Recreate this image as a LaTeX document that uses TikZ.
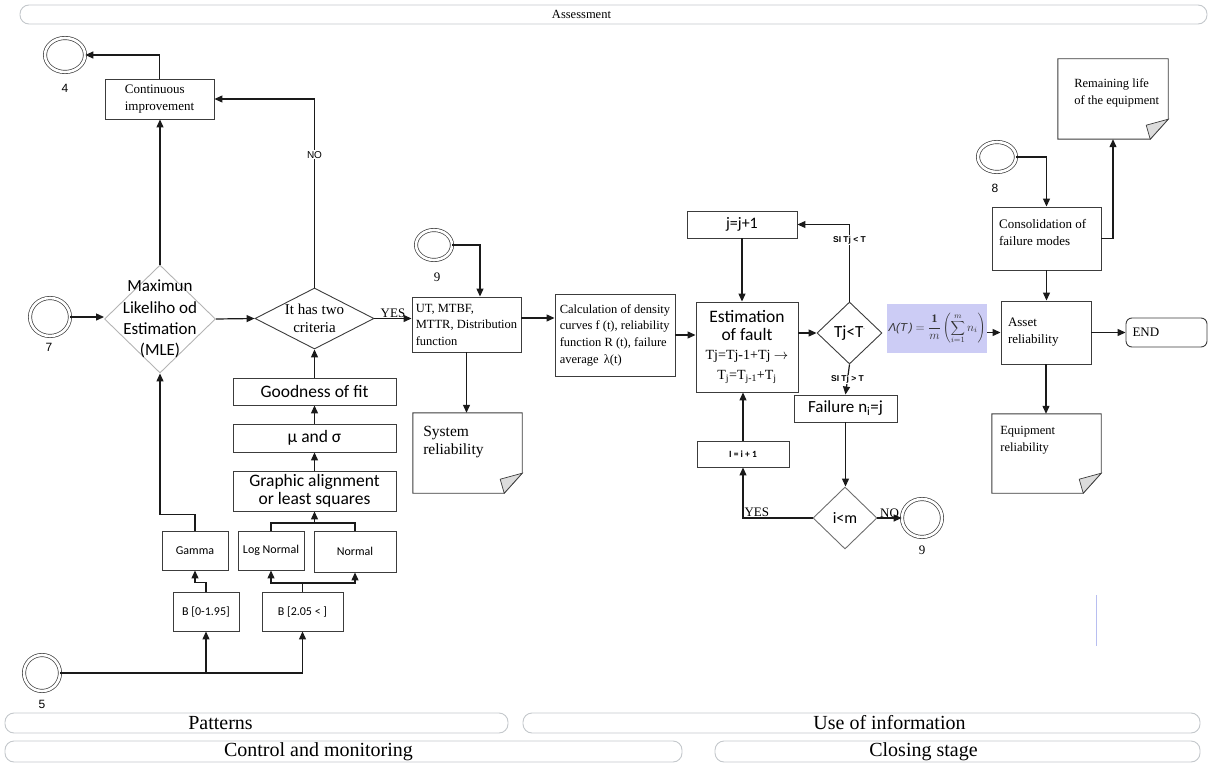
\documentclass[tikz,border=0pt]{standalone}
\usepackage{fontspec}
\setmainfont{Liberation Serif}
\newfontfamily\cf{Carlito}
\newfontfamily\af{Liberation Sans}
\usetikzlibrary{arrows.meta,shapes.geometric,calc}

\definecolor{ink}{HTML}{1A1A1A}
\definecolor{boxgray}{HTML}{3C3C3C}
\definecolor{lightdia}{HTML}{B4B4B4}
\definecolor{middia}{HTML}{6E6E6E}
\definecolor{bannerline}{HTML}{C4C8CC}
\definecolor{formulabg}{RGB}{204,204,245}
\definecolor{folded}{HTML}{DCDCDC}
\definecolor{stray}{HTML}{B8BEF0}

\newcommand\fs[2]{\fontsize{#1}{#2}\selectfont}
% note sheet with a dog-eared lower right corner
\newcommand\foldnote[1]{%
  \draw[boxgray, line width=0.9pt] (#1.north west) -- (#1.north east)
    -- ([yshift=20pt]#1.south east) -- ([xshift=-18pt]#1.south east)
    -- (#1.south west) -- cycle;
  \filldraw[boxgray, line width=0.7pt, fill=folded] ([yshift=20pt]#1.south east)
    -- ([xshift=-22pt,yshift=14pt]#1.south east) -- ([xshift=-18pt]#1.south east) -- cycle;}

\tikzset{
  box/.style={draw=boxgray, line width=0.9pt, inner sep=2pt, align=left},
  dia/.style={diamond, draw=boxgray, line width=0.9pt, inner sep=0pt},
  endevent/.style={ellipse, draw=boxgray, line width=0.7pt, double=white,
                   double distance=2.6pt, inner sep=0pt},
  notesheet/.style={inner sep=0pt},
  banner/.style={draw=bannerline, line width=0.9pt, rounded corners=9pt, fill=white, inner sep=0pt},
  arrowline/.style={line width=1.2pt, draw=ink, -{Triangle[length=8pt,width=7pt]}},
  link/.style={line width=1.2pt, draw=ink},
  evnum/.style={font=\af\fs{12}{14}, inner sep=0pt},
  evnumserif/.style={font=\fs{13}{15}, inner sep=0pt},
  smallbox/.style={box, align=center, font=\cf\fs{12}{14}},
  sansbox/.style={box, align=center, font=\cf\fs{17.5}{17.5}},
  silbl/.style={font=\af\bfseries\fs{8.5}{10}, fill=white, inner sep=1pt},
  serifsmall/.style={font=\fs{13}{15}, inner sep=1pt},
}

\begin{document}
\begin{tikzpicture}[x=1pt,y=-1pt]
\useasboundingbox (0,0) rectangle (1211,765);

% phase banners
\node[banner, minimum width=1187pt, minimum height=19pt,
      label={[font=\fs{12.5}{14}, xshift=-32pt]center:Assessment}] (assess) at (613.5,14.5) {};
\node[banner, minimum width=503pt, minimum height=20pt,
      label={[font=\fs{20}{22}, xshift=-36pt]center:Patterns}] (patterns) at (256.5,723) {};
\node[banner, minimum width=677pt, minimum height=20pt,
      label={[font=\fs{20}{22}, xshift=28pt]center:Use of information}] (useinfo) at (861.5,723) {};
\node[banner, minimum width=677pt, minimum height=21pt,
      label={[font=\fs{20}{22}, xshift=-25pt]center:Control and monitoring}] (control) at (343.5,751.5) {};
\node[banner, minimum width=485pt, minimum height=21pt,
      label={[font=\fs{20}{22}, xshift=-34pt]center:Closing stage}] (closing) at (957.5,751.5) {};

% events
\node[endevent, minimum width=40pt, minimum height=34pt] (e4) at (65,55) {};
\node[evnum] (e4n) at (65,88) {4};
\node[endevent, minimum width=40pt, minimum height=38pt] (e7) at (50,317) {};
\node[evnum] (e7n) at (49,347) {7};
\node[endevent, minimum width=36pt, minimum height=36pt] (e5) at (42,673) {};
\node[evnum] (e5n) at (42,704) {5};
\node[endevent, minimum width=36pt, minimum height=30pt] (e9a) at (434,245) {};
\node[evnumserif] (e9an) at (437,277) {9};
\node[endevent, minimum width=38pt, minimum height=30pt] (e8) at (997,157) {};
\node[evnum] (e8n) at (995,188) {8};
\node[endevent, minimum width=40pt, minimum height=38pt] (e9b) at (922,518) {};
\node[evnumserif] (e9bn) at (922,550) {9};

% left part: patterns and estimation
\node[box, minimum width=109pt, minimum height=40pt, font=\fs{13}{17}] (cont) at (159.5,99) {Continuous\\improvement};
\node[dia, draw=lightdia, minimum width=111pt, minimum height=108pt,
      label={[font=\cf\fs{17}{21.3}, align=center]center:Maximun\\Likeliho od\\Estimation\\(MLE)}] (mle) at (160,319) {};
\node[dia, minimum width=119pt, minimum height=61pt,
      label={[font=\fs{15}{18}, align=center]center:It has two\\criteria}] (crit) at (314.5,318.5) {};
\node[sansbox, minimum width=163pt, minimum height=27pt] (good) at (314.5,391.5) {Goodness of fit};
\node[sansbox, minimum width=163pt, minimum height=28pt] (musig) at (314.5,438) {μ and σ};
\node[sansbox, minimum width=163pt, minimum height=40pt] (graph) at (314.5,491) {Graphic alignment\\or least squares};
\node[smallbox, minimum width=66pt, minimum height=39pt] (gamma) at (195,550.5) {Gamma};
\node[smallbox, minimum width=66pt, minimum height=39pt] (lognorm) at (271,550.5) {Log Normal};
\node[smallbox, minimum width=82pt, minimum height=41pt] (normal) at (355,551.5) {Normal};
\node[smallbox, minimum width=66pt, minimum height=39pt] (b1) at (206,611.5) {B [0-1.95]};
\node[smallbox, minimum width=81pt, minimum height=39pt] (b2) at (302.5,611.5) {B [2.05 < ]};

% middle part: indicators and fault estimation
\node[box, minimum width=109pt, minimum height=55pt, font=\fs{12.5}{16.5}] (ut) at (466.5,324.5)
  {UT, MTBF,\\MTTR, Distribution\\function};
\node[notesheet, minimum width=109pt, minimum height=80pt,
      label={[font=\fs{15.5}{18}, align=left, anchor=north west, xshift=7pt, yshift=-10pt]north west:System\\reliability}] (sys) at (467.5,453) {};
\node[box, minimum width=120pt, minimum height=82pt, font=\fs{12.5}{16.7}] (calc) at (615,335)
  {Calculation of density\\curves f (t), reliability\\function R (t), failure\\average \,λ(t)};
\node[box, minimum width=102pt, minimum height=90pt, align=center, font=\fs{14}{18.5}] (est) at (747,347)
  {{\cf\fs{17.5}{18.5}Estimation}\\{\cf\fs{17.5}{18.5}of fault}\\Tj=Tj-1+Tj $\rightarrow$\\[2pt]T\textsubscript{j}=T\textsubscript{j-1}+T\textsubscript{j}};
\node[box, align=center, minimum width=110pt, minimum height=27pt, font=\cf\fs{16}{18}] (jj) at (742,224.5) {j=j+1};
\node[dia, minimum width=65pt, minimum height=62pt,
      label={[font=\cf\fs{17}{19}]center:Tj<T\raisebox{1ex}{\fs{6}{6}.}}] (tj) at (849.5,333) {};
\node[box, align=center, minimum width=103pt, minimum height=27pt, font=\cf\fs{17}{19}] (fail) at (845.5,408.5) {Failure n\textsubscript{i}=j};
\node[box, align=center, minimum width=92pt, minimum height=26pt, font=\cf\bfseries\fs{9.5}{11}] (ii) at (743,454) {I = i + 1};
\node[dia, draw=middia, minimum width=64pt, minimum height=62pt,
      label={[font=\cf\fs{16}{18}]center:i<m}] (im) at (845,518) {};
\node[fill=formulabg, minimum width=100pt, minimum height=49pt, inner sep=0pt, text=black!80, font=\fs{11.5}{13}] (lam) at (937,328.5)
  {{\af\itshape Λ(T\,)} $\displaystyle =\frac{\mathbf{1}}{m}\left(\sum_{i=1}^{m} n_i\right)$};

% right part: consolidation and closing
\node[box, minimum width=109pt, minimum height=63pt,
      label={[font=\fs{13}{17}, align=left, anchor=north west, xshift=4pt, yshift=-9pt]north west:Consolidation of\\failure modes}] (cons) at (1046.5,238.5) {};
\node[notesheet, minimum width=110pt, minimum height=80pt,
      label={[font=\fs{12.5}{17}, align=left, anchor=north west, xshift=13pt, yshift=-16pt]north west:Remaining life\\of the equipment}] (rem) at (1113,99) {};
\node[box, minimum width=90pt, minimum height=63pt, text width=76pt, font=\fs{13}{17}] (asset) at (1046,332.5) {Asset\\reliability};
\node[box, rounded corners=6pt, minimum width=81pt, minimum height=29pt, text width=68pt, font=\fs{13}{15}] (endn) at (1166.5,332.5) {END};
\node[notesheet, minimum width=109pt, minimum height=79pt,
      label={[font=\fs{12.5}{17}, align=left, anchor=north west, xshift=5pt, yshift=-9pt]north west:Equipment\\reliability}] (equip) at (1046.5,453.5) {};

\foldnote{sys}
\foldnote{rem}
\foldnote{equip}

% connectors, left part
\draw[arrowline] (cont.north) |- (e4.east);
\draw[arrowline] (mle.north) -- (mle.north |- cont.south);
\draw[arrowline] (crit.north) |- node[pos=0.352, font=\af\fs{10}{12}, fill=white, inner sep=1pt] {NO} (cont.east);
\draw[arrowline] (e7.east) -- (e7.east -| mle.west);
\draw[arrowline] (mle.east) -- (crit.west);
\draw[arrowline] (crit.east) -- node[above=-1pt, serifsmall] {YES} (crit.east -| ut.west);
\draw[arrowline] (good.north) -- (crit.south);
\draw[arrowline] (musig.north) -- (good.south);
\draw[arrowline] (graph.north) -- (musig.south);
\draw[arrowline] (gamma.north) -- ++(0,-16) -| (mle.south);
\coordinate (jlog) at (314.5,523);
\draw[link] (lognorm.north) |- (jlog) -| (normal.north);
\draw[arrowline] (jlog) -- (graph.south);
\draw[arrowline] (b1.north) -- ++(0,-9) -| (gamma.south);
\coordinate (jb2) at (302.5,583);
\draw[link] (b2.north) -- (jb2);
\draw[arrowline] (jb2) -| (lognorm.south);
\draw[arrowline] (jb2) -| (normal.south);
\draw[arrowline] (e5.east) -| (b2.south);
\draw[arrowline] (e5.east -| b1.south) -- (b1.south);

% connectors, middle part
\draw[arrowline] (e9a.east) -| ([xshift=13.5pt]ut.north);
\draw[arrowline] (ut.south) -- (ut.south |- sys.north);
\draw[arrowline] ([yshift=6.5pt]ut.east) -- ([yshift=6.5pt]ut.east -| calc.west);
\draw[arrowline] (calc.east) -- (calc.east -| est.west);
\draw[arrowline] (tj.west -| est.east) -- (tj.west);
\draw[arrowline] (jj.south) -- (jj.south |- est.north);
\draw[arrowline] (tj.north) |- node[pos=0.4, silbl] {SI Tj < T} (jj.east);
\draw[arrowline] (tj.south) -- node[silbl] {SI Tj > T} (fail.north);
\draw[arrowline] (fail.south) -- (fail.south |- im.north);
\draw[arrowline] (im.west) -| node[pos=0.5, anchor=south west, serifsmall] {YES} (ii.south);
\draw[arrowline] (ii.north) -- (ii.north |- est.south);
\draw[arrowline] (im.east) -- node[above=-1pt, serifsmall] {NO} (e9b.west);

% connectors, right part
\draw[arrowline] (asset.west -| lam.east) -- (asset.west);
\draw[arrowline] (e8.east) -| (cons.north);
\draw[arrowline] (cons.east) -| (rem.south);
\draw[arrowline] (cons.south) -- (cons.south |- asset.north);
\draw[arrowline] (asset.east) -- (asset.east -| endn.west);
\draw[arrowline] (asset.south) -- (asset.south |- equip.north);

% stray guide line
\draw[stray, line width=1pt] (1096,595) -- (1096,646);
\end{tikzpicture}
\end{document}
